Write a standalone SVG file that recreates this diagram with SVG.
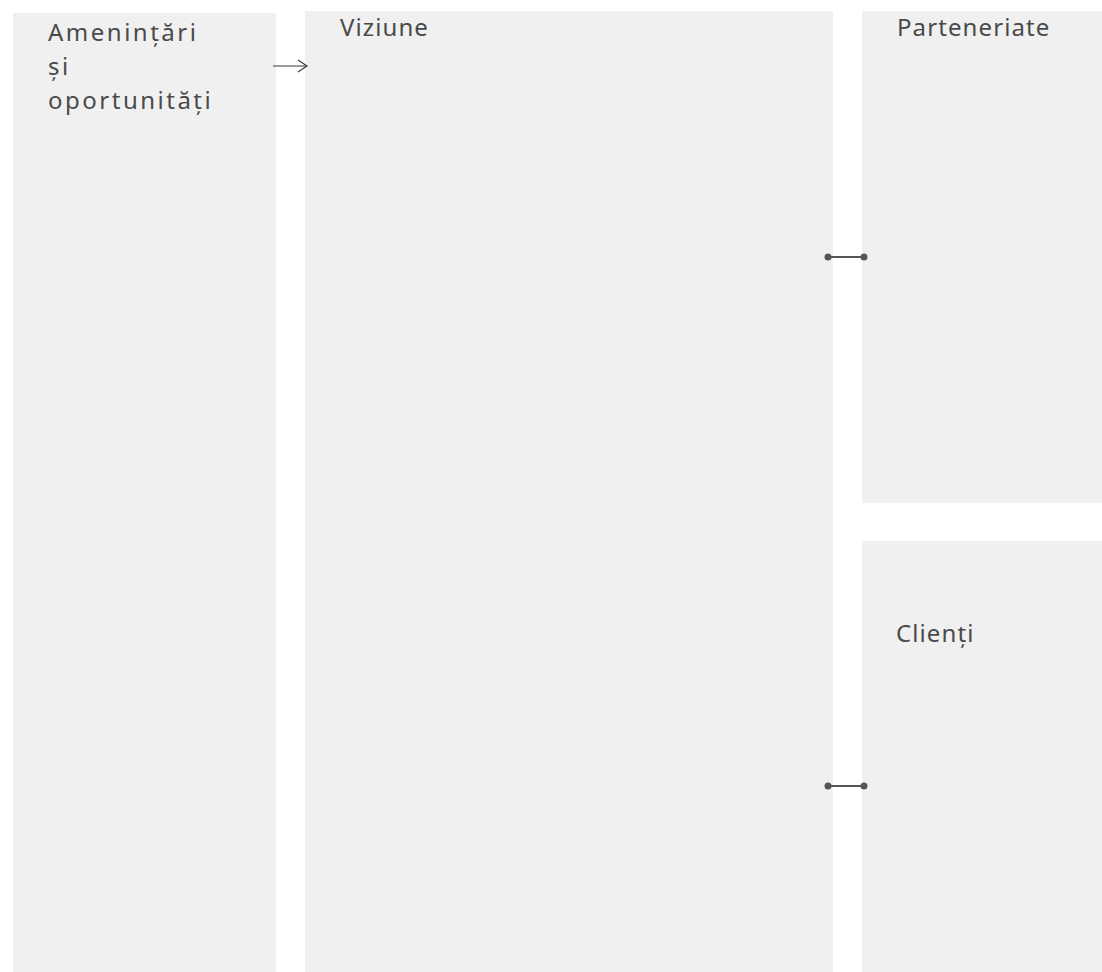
<svg xmlns="http://www.w3.org/2000/svg" width="1102" height="972" viewBox="0 0 1102 972">
  <style>
    .panel { fill: #f0f0f0; }
    .label { font-family: "Noto Sans", "Open Sans", "DejaVu Sans", sans-serif; font-size: 24px; fill: #4a4a4a; letter-spacing: 1.1px; }
    .label-lg { letter-spacing: 2.5px; }
    .link { stroke: #555555; stroke-width: 2; fill: none; }
    .dot { fill: #555555; }
    .arrow { stroke: #3a3a3a; stroke-width: 1.2; fill: none; }
  </style>
  <defs>
    <marker id="openHead" viewBox="0 0 12 14" refX="11" refY="7" markerWidth="12" markerHeight="14" markerUnits="userSpaceOnUse" orient="auto">
      <path d="M2,1 L11,7 L2,13" fill="none" stroke="#3a3a3a" stroke-width="1.2"/>
    </marker>
  </defs>

  <rect width="1102" height="972" fill="#ffffff"/>

  <g id="threats">
    <rect class="panel" x="13" y="13" width="263" height="959"/>
    <text class="label label-lg" x="48" y="41">Amenințări</text>
    <text class="label label-lg" x="48" y="75">și</text>
    <text class="label label-lg" x="48" y="109">oportunități</text>
  </g>

  <g id="vision">
    <rect class="panel" x="305" y="11" width="528" height="961"/>
    <text class="label" x="340" y="36">Viziune</text>
  </g>

  <g id="partnerships">
    <rect class="panel" x="862" y="11" width="240" height="492"/>
    <text class="label" x="897" y="36">Parteneriate</text>
  </g>

  <g id="clients">
    <rect class="panel" x="862" y="541" width="240" height="431"/>
    <text class="label" x="896" y="642">Clienți</text>
  </g>

  <g id="connectors">
    <line class="arrow" x1="273" y1="66" x2="307" y2="66" marker-end="url(#openHead)"/>
    <line class="link" x1="828" y1="257" x2="864" y2="257"/>
    <circle class="dot" cx="828" cy="257" r="3.5"/>
    <circle class="dot" cx="864" cy="257" r="3.5"/>
    <line class="link" x1="828" y1="786" x2="864" y2="786"/>
    <circle class="dot" cx="828" cy="786" r="3.5"/>
    <circle class="dot" cx="864" cy="786" r="3.5"/>
  </g>
</svg>
